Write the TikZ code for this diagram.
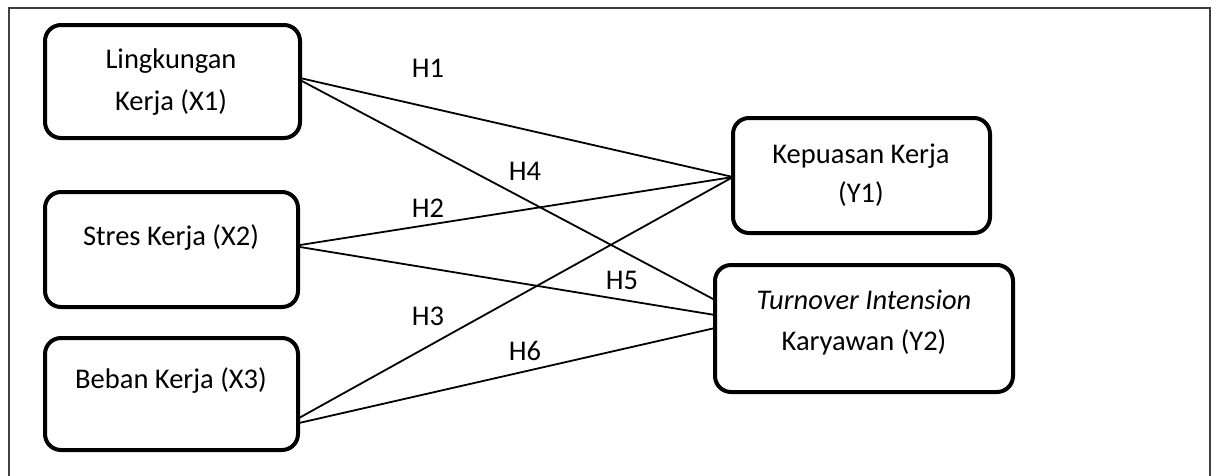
\documentclass[tikz,border=0pt]{standalone}
\usepackage{fontspec}
\setmainfont{Carlito}
\begin{document}
\begin{tikzpicture}[x=1pt,y=-1pt,
  boxst/.style={draw=black,line width=4pt,rounded corners=16pt,inner sep=0pt},
  lbl/.style={anchor=base,inner sep=0pt,font=\fontsize{28.5}{40}\selectfont},
  conn/.style={line width=1.8pt,draw=black},
  frame/.style={line width=1.5pt,draw=black!75}]
\useasboundingbox (0,0) rectangle (1216,475);
\draw[frame] (9,476) -- (9,8) -- (1210,8) -- (1210,476);
% boxes
\node[boxst,minimum width=255pt,minimum height=113pt] (x1) at (172.5,81.5) {};
\node[boxst,minimum width=253pt,minimum height=115pt] (x2) at (171.5,249.5) {};
\node[boxst,minimum width=253pt,minimum height=112pt] (x3) at (171.5,394) {};
\node[boxst,minimum width=257pt,minimum height=115pt] (y1) at (861.5,175.5) {};
\node[boxst,minimum width=298pt,minimum height=127pt] (y2) at (864,328.5) {};
% texts
\node[lbl] (t1a) at (171,68) {Lingkungan};
\node[lbl] (t1b) at (171,110) {Kerja (X1)};
\node[lbl] (t2) at (171,245) {Stres Kerja (X2)};
\node[lbl] (t3) at (171,388) {Beban Kerja (X3)};
\node[lbl] (t4a) at (861,163) {Kepuasan Kerja};
\node[lbl] (t4b) at (861,202) {(Y1)};
\node[lbl] (t5a) at (864,309) {\itshape Turnover Intension};
\node[lbl] (t5b) at (864,350) {Karyawan (Y2)};
% connector ends
\coordinate (x1a) at (300,78);
\coordinate (x1b) at (300,80);
\coordinate (x2a) at (300,245);
\coordinate (x2b) at (300,247);
\coordinate (x3a) at (299,418);
\coordinate (x3b) at (299,423);
\coordinate (y1in) at (733,177);
\coordinate (y2a) at (715,300);
\coordinate (y2b) at (715,315);
\coordinate (y2c) at (715,328);
\draw[conn] (x1a) -- (y1in);
\draw[conn] (x1b) -- (y2a);
\draw[conn] (x2a) -- (y1in);
\draw[conn] (x2b) -- (y2b);
\draw[conn] (x3a) -- (y1in);
\draw[conn] (x3b) -- (y2c);
% hypothesis labels
\node[lbl] (h1) at (428,77) {H1};
\node[lbl] (h4) at (525,180) {H4};
\node[lbl] (h2) at (428,217) {H2};
\node[lbl] (h3) at (428,325) {H3};
\node[lbl] (h5) at (622,289) {H5};
\node[lbl] (h6) at (525,360) {H6};
\end{tikzpicture}
\end{document}
